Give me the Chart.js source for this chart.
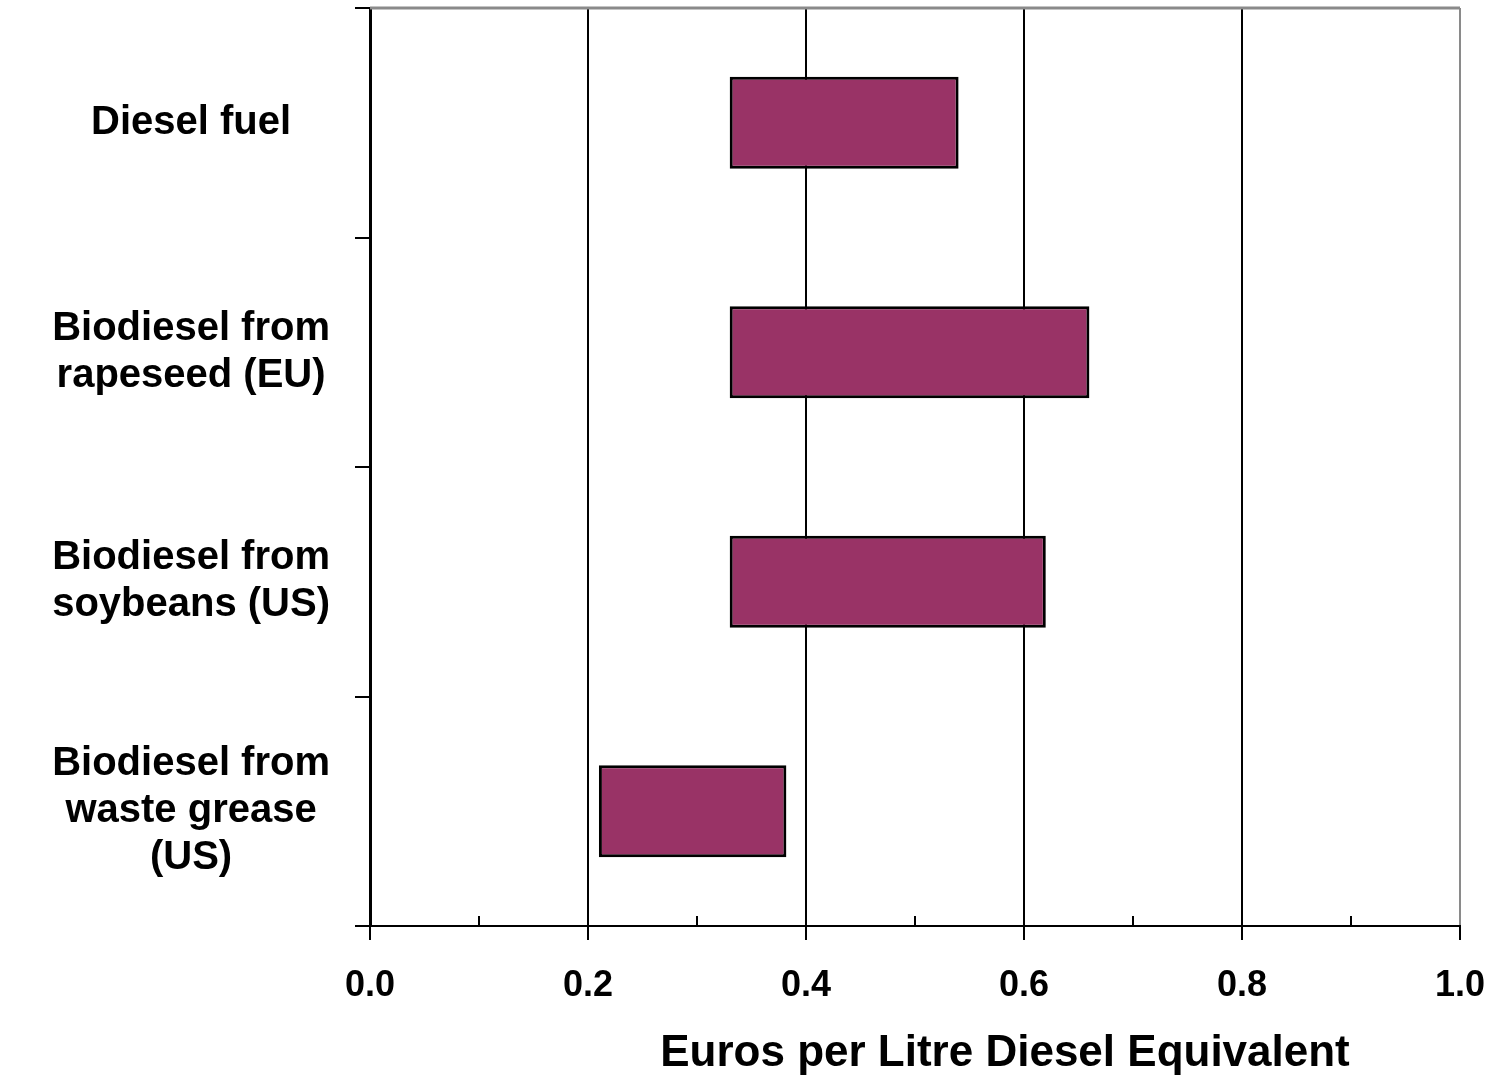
<!DOCTYPE html>
<html>
<head>
<meta charset="utf-8">
<script src="https://cdn.jsdelivr.net/npm/chart.js@4"></script>
<style>
    body { margin: 0; background: #fff; }
    #wrap { width: 1500px; height: 1082px; }
</style>
</head>
<body>
<div id="wrap"><canvas id="costChart"></canvas></div>
<script>
const categories = [
    "Diesel fuel",
    ["Biodiesel from", "rapeseed (EU)"],
    ["Biodiesel from", "soybeans (US)"],
    ["Biodiesel from", "waste grease", "(US)"]
];
const lowCost = [0.33, 0.33, 0.33, 0.21];
const highCost = [0.54, 0.66, 0.62, 0.382];
const xTitle = "Euros per Litre Diesel Equivalent";

const fontFamily = '"Liberation Sans", Arial, sans-serif';

// top border, minor ticks and the shifted axis title
const extras = {
    id: 'extras',
    beforeDatasetsDraw(chart) {
        const { ctx, chartArea } = chart;
        ctx.save();
        ctx.strokeStyle = '#8a8a8a';
        ctx.lineWidth = 3;
        ctx.beginPath();
        ctx.moveTo(chartArea.left, chartArea.top);
        ctx.lineTo(chartArea.right, chartArea.top);
        ctx.stroke();
        ctx.restore();
    },
    afterDraw(chart) {
        const { ctx, chartArea } = chart;
        const x = chart.scales.x;
        ctx.save();
        ctx.strokeStyle = '#000';
        ctx.lineWidth = 2;
        x.ticks.forEach((t, i) => {
            if (i % 2 === 1) {
                const px = x.getPixelForTick(i);
                ctx.beginPath();
                ctx.moveTo(px, chartArea.bottom);
                ctx.lineTo(px, chartArea.bottom - 10);
                ctx.stroke();
            }
        });
        ctx.fillStyle = '#000';
        ctx.font = 'bold 44px ' + fontFamily;
        ctx.textAlign = 'center';
        ctx.textBaseline = 'middle';
        ctx.fillText(xTitle, (chartArea.left + chartArea.right) / 2 + 90, 1054);
        ctx.restore();
    }
};

new Chart(document.getElementById("costChart"), {
    type: 'bar',
    data: {
        labels: categories,
        datasets: [{
            data: lowCost.map((lo, i) => [lo, highCost[i]]),
            backgroundColor: '#993366',
            borderColor: '#000',
            borderWidth: 3,
            borderSkipped: false,
            categoryPercentage: 1,
            barPercentage: 0.4
        }]
    },
    options: {
        indexAxis: 'y',
        responsive: true,
        maintainAspectRatio: false,
        animation: false,
        layout: { padding: { top: 8, right: 40, left: 0, bottom: 0 } },
        plugins: {
            legend: { display: false },
            tooltip: { enabled: false }
        },
        scales: {
            x: {
                min: 0,
                max: 1,
                afterFit(scale) {
                    scale.height = 156;
                    scale.paddingLeft = 0;
                    scale.paddingRight = 0;
                },
                ticks: {
                    stepSize: 0.1,
                    autoSkip: false,
                    maxRotation: 0,
                    padding: 24,
                    color: '#000',
                    font: { family: fontFamily, size: 36, weight: 'bold' },
                    callback: (v, i) => i % 2 === 0 ? Number(v).toFixed(1) : ''
                },
                grid: {
                    lineWidth: 2,
                    tickLength: 14,
                    color: c => c.index === 10 ? '#8a8a8a' : (c.index % 2 === 0 ? '#000' : 'rgba(0,0,0,0)'),
                    tickColor: c => c.index % 2 === 0 ? '#000' : 'rgba(0,0,0,0)'
                },
                border: { color: '#000', width: 2 }
            },
            y: {
                afterFit(scale) {
                    scale.width = 370;
                    scale.paddingTop = 0;
                    scale.paddingBottom = 0;
                },
                ticks: {
                    padding: 25,
                    crossAlign: 'center',
                    color: '#000',
                    font: { family: fontFamily, size: 40, weight: 'bold', lineHeight: 1.18 }
                },
                grid: {
                    offset: true,
                    drawOnChartArea: false,
                    lineWidth: 2,
                    tickLength: 15,
                    color: '#000'
                },
                border: { color: '#000', width: 3 }
            }
        }
    },
    plugins: [extras]
});
</script>
</body>
</html>
